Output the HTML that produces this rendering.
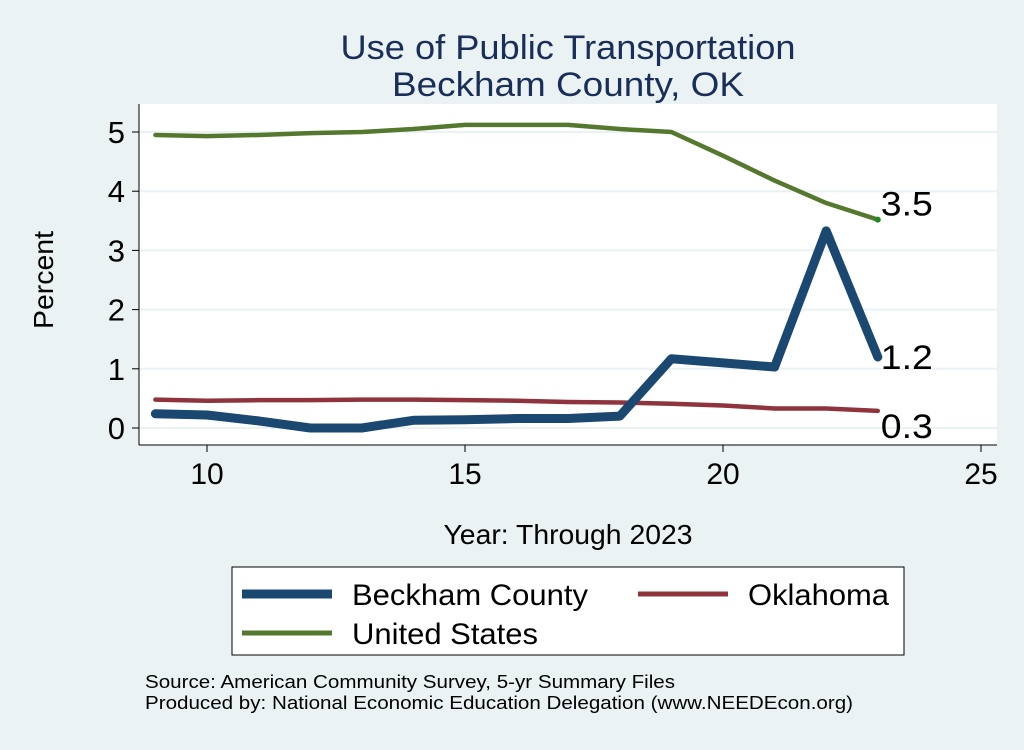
<!DOCTYPE html>
<html><head><meta charset="utf-8"><style>
body{margin:0;background:#eaf2f3;font-family:"Liberation Sans",sans-serif}
svg text{font-family:"Liberation Sans",sans-serif}
</style></head><body>
<svg width="1024" height="745" viewBox="0 0 1024 745">
<rect x="0" y="0" width="1024" height="745" fill="#eaf2f3"/>
<text x="568" y="59" font-size="34" fill="#1a2e5a" text-anchor="middle" textLength="455" lengthAdjust="spacingAndGlyphs">Use of Public Transportation</text>
<text x="568" y="96" font-size="34" fill="#1a2e5a" text-anchor="middle" textLength="352" lengthAdjust="spacingAndGlyphs">Beckham County, OK</text>
<defs><clipPath id="pc"><rect x="139" y="100" width="858" height="345"/></clipPath></defs>
<rect x="139" y="104" width="858" height="341" fill="#fff"/>
<g id="grid"></g>
<g id="series" clip-path="url(#pc)"></g>
<g id="axes"></g>
<text x="53" y="280" font-size="28" transform="rotate(-90 53 280)" text-anchor="middle" textLength="98" lengthAdjust="spacingAndGlyphs">Percent</text>
<text x="568" y="544" font-size="28" text-anchor="middle" textLength="249" lengthAdjust="spacingAndGlyphs">Year: Through 2023</text>
<g>
<rect x="232" y="567" width="672" height="88" fill="#fff" stroke="#000" stroke-width="1"/>
<line x1="242" y1="594" x2="332" y2="594" stroke="#1a4870" stroke-width="9"/>
<text x="352" y="605" font-size="30" textLength="236" lengthAdjust="spacingAndGlyphs">Beckham County</text>
<line x1="638" y1="594" x2="728" y2="594" stroke="#8f343d" stroke-width="5"/>
<text x="748" y="605" font-size="30" textLength="141" lengthAdjust="spacingAndGlyphs">Oklahoma</text>
<line x1="242" y1="633" x2="332" y2="633" stroke="#55782f" stroke-width="5"/>
<text x="352" y="644" font-size="30" textLength="186" lengthAdjust="spacingAndGlyphs">United States</text>
</g>
<text x="145" y="688" font-size="18" textLength="530" lengthAdjust="spacingAndGlyphs">Source: American Community Survey, 5-yr Summary Files</text>
<text x="145" y="709" font-size="18" textLength="708" lengthAdjust="spacingAndGlyphs">Produced by: National Economic Education Delegation (www.NEEDEcon.org)</text>
</svg>
<script>
const years=[9,10,11,12,13,14,15,16,17,18,19,20,21,22,23];
const beckham=[0.24,0.22,0.12,0,0,0.13,0.14,0.16,0.16,0.2,1.17,1.1,1.03,3.33,1.2];
const oklahoma=[0.48,0.46,0.47,0.47,0.48,0.48,0.47,0.46,0.44,0.43,0.41,0.38,0.33,0.33,0.29];
const us=[4.95,4.93,4.95,4.98,5.0,5.05,5.12,5.12,5.12,5.05,5.0,4.6,4.18,3.8,3.52];
const xTicks=[10,15,20,25];
const yTicks=[0,1,2,3,4,5];
const endLabels=["1.2","0.3","3.5"];
const NS="http://www.w3.org/2000/svg";
const X=v=>207+(v-10)*51.6;
const Y=v=>428-v*59.2;
function mk(t,a,p){const e=document.createElementNS(NS,t);for(const k in a)e.setAttribute(k,a[k]);p.appendChild(e);return e;}
const grid=document.getElementById('grid'),axes=document.getElementById('axes'),ser=document.getElementById('series');
yTicks.forEach(v=>{
const g=mk('line',{x1:139,x2:997,y1:Y(v),y2:Y(v),stroke:'#eaf2f3','stroke-width':2},grid);


mk('line',{x1:132,x2:139,y1:Y(v),y2:Y(v),stroke:'#000','stroke-width':1},axes);
const t=mk('text',{x:125,y:Y(v)+11,'font-size':31,'text-anchor':'end'},axes);t.textContent=v;


});
xTicks.forEach(v=>{
mk('line',{x1:X(v),x2:X(v),y1:445,y2:452,stroke:'#000','stroke-width':1},axes);
const t=mk('text',{x:X(v),y:484,'font-size':30,'text-anchor':'middle'},axes);t.textContent=v;


});
const ya=mk('line',{x1:139,x2:139,y1:104,y2:445,stroke:'#000','stroke-width':1},axes);


const xa=mk('line',{x1:139,x2:997,y1:445,y2:445,stroke:'#000','stroke-width':1},axes);


function line(data,color,w,name){
const p=mk('polyline',{points:data.map((v,i)=>X(years[i])+','+Y(v)).join(' '),fill:'none',stroke:color,'stroke-width':w,'stroke-linejoin':'round','stroke-linecap':'round'},ser);


}
line(us,'#55782f',4.5,'line-united-states');
line(oklahoma,'#8f343d',4.5,'line-oklahoma');
line(beckham,'#1a4870',9,'line-beckham-county');
const n=years.length-1;
mk('circle',{cx:X(years[n]),cy:Y(us[n]),r:3,fill:'#1a8a1a'},ser);
[[beckham,endLabels[0]],[oklahoma,endLabels[1]],[us,endLabels[2]]].forEach(([d,l],i)=>{
const t=mk('text',{x:X(years[n])+3,y:Y(d[n])+(i==1?27:-4)+(i==0?16:0),'font-size':34,textLength:52,lengthAdjust:'spacingAndGlyphs'},document.querySelector('svg'));
t.textContent=l;


});
</script>
</body></html>
